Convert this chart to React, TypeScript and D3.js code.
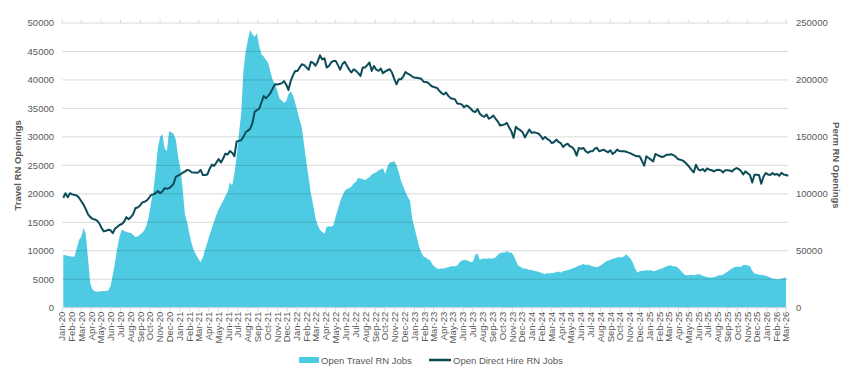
import React from "react";
import * as d3 from "d3";

const START_WEEK = new Date(2020, 0, 5);

const travelJobs = [
  9300, 9200, 9100, 9050, 8950, 9000, 10500, 11900, 12500, 14000,
  13000, 8500, 4200, 3200, 2900, 2800, 2850, 2900, 2950, 2950,
  3000, 3800, 5800, 8000, 10500, 12500, 13700, 13500, 13300, 13200,
  13100, 12800, 12400, 12500, 12800, 13100, 13600, 14500, 16000, 18500,
  20500, 24000, 28000, 30000, 30500, 28000, 27500, 31000, 30800, 30500,
  29500, 26500, 24500, 21000, 16500, 15000, 13000, 11300, 10000, 9300,
  8600, 8000, 8800, 10200, 11500, 12800, 14000, 15200, 16300, 17300,
  18000, 18800, 19600, 20300, 22000, 21500, 23500, 26500, 30500, 34000,
  41500, 45000, 47000, 48800, 48000, 47600, 48200, 46000, 44500, 44100,
  43500, 43000, 41500, 40000, 39300, 38200, 36800, 36400, 36000, 36300,
  37500, 38000, 37300, 36000, 34500, 33000, 31500, 28500, 25500, 22800,
  20000, 18000, 15800, 14500, 13700, 13300, 13000, 14200, 14300, 14200,
  14500, 16000, 17300, 18700, 19700, 20500, 20900, 21000, 21300, 21800,
  22100, 22800, 22700, 22600, 22400, 22700, 22900, 23400, 23600, 23800,
  24100, 24300, 24500, 23500, 24800, 25500, 25600, 25700, 25000, 23800,
  22300, 21300, 20300, 19500, 18800, 15600, 14000, 12400, 10800, 9700,
  9000, 8800, 8500, 8300, 7600, 7200, 6900, 6800, 6900, 6900,
  7000, 7100, 7300, 7300, 7300, 7400, 8000, 8300, 8400, 8350,
  8200, 8000, 8100, 9300, 9500, 8400, 8600, 8650, 8600, 8700,
  8600, 8700, 8800, 9300, 9600, 9700, 9700, 9900, 9700, 9700,
  9200, 8300, 7400, 7200, 6900, 6900, 6800, 6600, 6600, 6500,
  6400, 6300, 6200, 6000, 5900, 6100, 6000, 6100, 6100, 6300,
  6300, 6200, 6400, 6500, 6600, 6700, 6900, 7000, 7200, 7400,
  7500, 7700, 7500, 7600, 7400, 7300, 7200, 7100, 7300, 7500,
  7800, 8100, 8300, 8400, 8600, 8700, 8800, 8900, 8800, 9000,
  9400, 9000, 8600, 7900, 6900, 6200, 6400, 6500, 6500, 6600,
  6500, 6600, 6400, 6500, 6600, 6800, 6900, 7100, 7300, 7400,
  7400, 7300, 7300, 7000, 6600, 6200, 5800, 5700, 5700, 5800,
  5700, 5800, 5900, 5800, 5600, 5500, 5400, 5300, 5300, 5400,
  5500, 5700, 5700, 5800, 6100, 6300, 6600, 6900, 7100, 7200,
  7200, 7200, 7500, 7500, 7400, 7300, 6500, 6000, 5900, 5800,
  5800, 5700, 5600, 5500, 5300, 5100, 5100, 5000, 5000, 5100,
  5200, 5300,
];

const directHireJobs = [
  96500, 100500, 97000, 100500, 99500, 99000, 98500, 96500, 93500, 90500,
  86500, 82000, 79500, 78000, 77500, 76500, 74000, 70000, 67000, 67500,
  68500, 68000, 65500, 69500, 71000, 72600, 73500, 75500, 79500, 77600,
  79500, 82000, 87300, 88000, 89500, 92300, 93000, 94000, 96200, 99000,
  99500, 100500, 102500, 100500, 102000, 105000, 104500, 105000, 106500, 109000,
  115000, 116000, 117000, 118500, 119500, 121000, 120500, 119000, 118800, 118500,
  118800, 121000, 116500, 116500, 117000, 122000, 125600, 124500, 127500, 130500,
  127500, 131000, 135300, 134500, 137500, 136000, 133000, 146000, 146500, 147000,
  150000, 154000, 155500, 157000, 162000, 172000, 173500, 174700, 180000, 185900,
  183800, 186000, 188500, 192500, 196200, 196000, 196500, 197000, 199000, 196000,
  191200, 199000, 204000, 207900, 207900, 211000, 213800, 213000, 211000, 209000,
  215900, 215000, 212500, 216000, 221700, 218000, 219000, 211000, 212300, 215500,
  216700, 216700, 213000, 209000, 214000, 215900, 212500, 209000, 206500, 209400,
  208000, 206000, 203500, 210900, 210900, 213000, 215300, 207900, 212300, 209000,
  208000, 210000, 205900, 207500, 208500, 209400, 206500, 201000, 196200, 200500,
  200600, 203000, 207000, 205500, 204500, 203000, 202000, 202000, 201500, 201000,
  198500, 198200, 197600, 195500, 194200, 193500, 193000, 190500, 188500, 187300,
  189000, 186000, 184000, 183500, 182900, 179400, 179000, 178500, 176000, 177600,
  176500, 174700, 172500, 171800, 174500, 170300, 168500, 167600, 169700, 166000,
  167000, 168800, 166000, 163500, 160000, 160500, 161000, 162300, 158500, 155000,
  149100, 158800, 157000, 155900, 154100, 149500, 153000, 156500, 153500, 154100,
  153500, 152900, 151000, 148000, 150000, 148000, 147000, 144500, 145500, 147600,
  145500, 144500, 141200, 143000, 144000, 141800, 141000, 138500, 133500, 140300,
  139400, 140300, 137500, 136000, 137300, 137300, 139500, 140500, 137300, 138000,
  138800, 137500, 136500, 138200, 135000, 136500, 138800, 137500, 137300, 137300,
  137000, 136200, 135500, 134500, 133500, 133000, 132900, 129000, 124700, 132900,
  131500, 130000, 128500, 135000, 134000, 133000, 132300, 133000, 134400, 134400,
  134700, 134000, 132700, 130500, 130000, 129300, 128000, 126000, 123800, 121000,
  118800, 125600, 121500, 120500, 121800, 119700, 122300, 121200, 120700, 119700,
  120800, 121200, 120600, 118800, 120600, 120600, 120500, 119700, 121500, 122600,
  121800, 120000, 117000, 119700, 118000, 116500, 110000, 116800, 116800, 116500,
  108800, 115000, 118200, 117000, 116500, 118200, 116800, 117500, 115800, 118500,
  117000, 116500, 115900,
];

const leftTicks = [0, 5000, 10000, 15000, 20000, 25000, 30000, 35000, 40000, 45000, 50000];
const rightTicks = [0, 50000, 100000, 150000, 200000, 250000];
const leftTitle = "Travel RN Openings";
const rightTitle = "Perm RN Openings";
const travelName = "Open Travel RN Jobs";
const directName = "Open Direct Hire RN Jobs";

const AREA_COLOR = "#4ECBE2";
const LINE_COLOR = "#0B4C58";
const TEXT_COLOR = "#595959";
const FONT = "'Liberation Sans', Arial, sans-serif";

export default function App() {
  const W = 853;
  const H = 378;
  const left = 62;
  const right = 786;
  const top = 23;
  const bottom = 307.7;

  const nWeeks = Math.max(travelJobs.length, directHireJobs.length);
  const weeks = d3.timeWeek.range(START_WEEK, d3.timeWeek.offset(START_WEEK, nWeeks));
  const months = d3.timeMonth.range(new Date(2020, 0, 1), new Date(2026, 2, 2));

  const x = d3.scaleTime().domain([new Date(2020, 0, 1), new Date(2026, 2, 1)]).range([left, right]);
  const yL = d3.scaleLinear().domain([0, 50000]).range([bottom, top]);
  const yR = d3.scaleLinear().domain([0, 250000]).range([bottom, top]);

  const travelData = travelJobs.map((v, i) => ({ d: weeks[i], v }));
  const directData = directHireJobs.map((v, i) => ({ d: weeks[i], v }));

  const areaPath = d3
    .area<{ d: Date; v: number }>()
    .x((p) => x(p.d))
    .y0(yL(0))
    .y1((p) => yL(p.v))(travelData) as string;

  const linePath = d3
    .line<{ d: Date; v: number }>()
    .x((p) => x(p.d))
    .y((p) => yR(p.v))(directData) as string;

  const fmt = d3.timeFormat("%b-%y");
  const fs = 9.5;

  return (
    <svg
      width={W}
      height={H}
      style={{ position: "absolute", left: 0, top: 0, background: "#fff" }}
      fontFamily={FONT}
    >
      <rect x={0} y={0} width={W} height={H} fill="#fff" />
      <line x1={left} x2={right + 2} y1={yL(50000)} y2={yL(50000)} stroke="#d9d9d9" />
      {months
        .filter((_, i) => i % 2 === 0)
        .map((m, i) => (
          <line key={"tt" + i} x1={x(m)} x2={x(m)} y1={top} y2={top - 3.5} stroke="#d9d9d9" />
        ))}
      <path d={areaPath} fill={AREA_COLOR} />
      {leftTicks
        .filter((t) => t > 0 && t < 50000)
        .map((t) => (
          <line
            key={"g" + t}
            x1={left}
            x2={right + 2}
            y1={yL(t)}
            y2={yL(t)}
            stroke="rgba(0,0,0,0.15)"
            strokeWidth={1}
          />
        ))}
      <line x1={left} x2={right + 2} y1={bottom} y2={bottom} stroke="#d9d9d9" />
      {months.map((m, i) => (
        <g key={"m" + i} transform={`translate(${x(m)},${bottom})`}>
          <line y1={0} y2={4} stroke="#d9d9d9" />
          <text
            transform="rotate(-90)"
            x={-4}
            y={0}
            dy="0.35em"
            textAnchor="end"
            fontSize={fs}
            fill={TEXT_COLOR}
          >
            {fmt(m)}
          </text>
        </g>
      ))}
      <path d={linePath} fill="none" stroke={LINE_COLOR} strokeWidth={2} strokeLinejoin="round" />
      {leftTicks.map((t) => (
        <text
          key={"l" + t}
          x={54}
          y={yL(t)}
          dy="0.35em"
          textAnchor="end"
          fontSize={fs}
          fill={TEXT_COLOR}
        >
          {String(t)}
        </text>
      ))}
      {rightTicks.map((t) => (
        <text
          key={"r" + t}
          x={796}
          y={yR(t)}
          dy="0.35em"
          textAnchor="start"
          fontSize={fs}
          fill={TEXT_COLOR}
        >
          {String(t)}
        </text>
      ))}
      <text
        transform={`translate(21,${(top + bottom) / 2}) rotate(-90)`}
        textAnchor="middle"
        fontSize={fs}
        fontWeight="bold"
        fill={TEXT_COLOR}
      >
        {leftTitle}
      </text>
      <text
        transform={`translate(833,${(top + bottom) / 2}) rotate(90)`}
        textAnchor="middle"
        fontSize={fs}
        fontWeight="bold"
        fill={TEXT_COLOR}
      >
        {rightTitle}
      </text>
      <rect x={299} y={357} width={20} height={6} fill={AREA_COLOR} />
      <text x={321} y={363.5} fontSize={fs} fill={TEXT_COLOR}>
        {travelName}
      </text>
      <line x1={429} x2={451} y1={360} y2={360} stroke={LINE_COLOR} strokeWidth={2.5} />
      <text x={453} y={363.5} fontSize={fs} fill={TEXT_COLOR}>
        {directName}
      </text>
    </svg>
  );
}
